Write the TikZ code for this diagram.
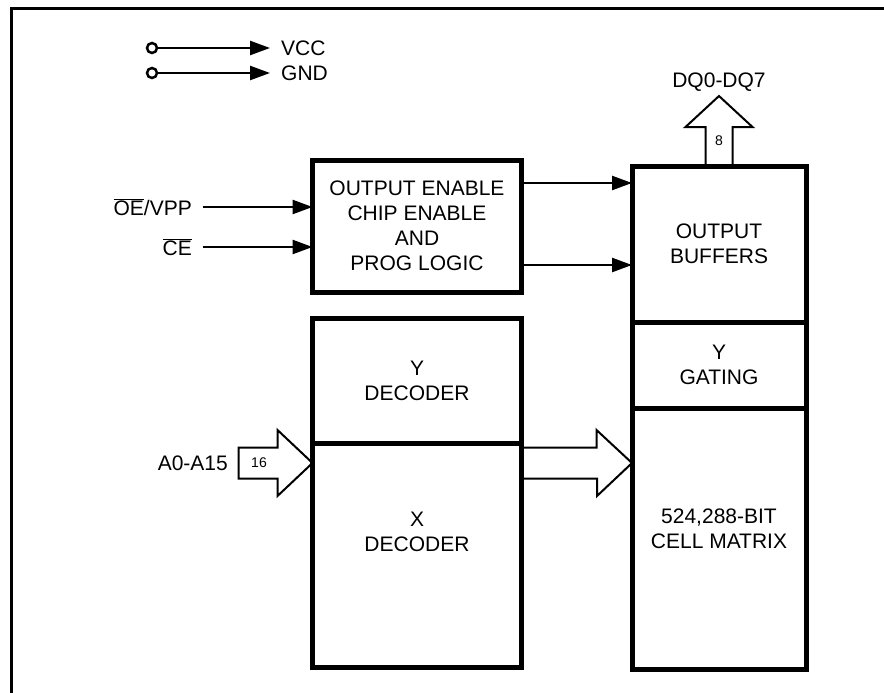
\documentclass[tikz,border=0pt]{standalone}
\usepackage{fontspec}
\setmainfont{Liberation Sans}
\usepackage{tikz}
\usetikzlibrary{positioning, arrows.meta, calc}

\begin{document}
\begin{tikzpicture}[x=1pt, y=-1pt, font=\fontsize{21}{25}\selectfont,
    block/.style={draw, line width=5pt, align=center, inner sep=0pt, outer sep=0pt},
    sig/.style={-{Triangle[length=20pt, width=14pt]}, line width=2.5pt},
    bus/.style={line width=2pt, line join=miter},
    pin/.style={circle, draw, line width=2.5pt, minimum size=10pt, inner sep=0pt},
    tag/.style={inner xsep=11pt}]
    \useasboundingbox (0,0) rectangle (884,693);
    \draw[line width=3pt, line join=miter] (11,693) -- (11,9) -- (884,9);

    \node[pin] (vccpin) at (152,48) {};
    \node[pin] (gndpin) at (152,73) {};
    \node[tag, anchor=west] (vcc) at (270,48) {VCC};
    \node[tag, anchor=west] (gnd) at (270,73) {GND};
    \draw[sig] (vccpin) -- (vcc.west);
    \draw[sig] (gndpin) -- (gnd.west);

    \node[block, minimum width=209pt, minimum height=132pt] (ctrl) at (417,226) {OUTPUT ENABLE\\CHIP ENABLE\\AND\\PROG LOGIC};
    \node[block, minimum width=209pt, minimum height=125pt] (ydec) at (417,380.5) {Y\\DECODER};
    \node[block, minimum width=209pt, minimum height=224pt, below=0pt of ydec,
        label={[align=center, yshift=23pt]center:X\\DECODER}] (xdec) {};

    \node[block, minimum width=174pt, minimum height=156pt] (outbuf) at (719,244) {OUTPUT\\BUFFERS};
    \node[block, minimum width=174pt, minimum height=86pt, below=0pt of outbuf] (ygate) {Y\\GATING};
    \node[block, minimum width=174pt, minimum height=261pt, below=0pt of ygate,
        label={[align=center, yshift=10pt]center:524,288-BIT\\CELL MATRIX}] (cells) {};

    \node[tag, anchor=east] (oe) at (203,207) {$\overline{\mbox{OE}}$/VPP};
    \node[tag, anchor=east] (ce) at (203,247) {$\overline{\mbox{CE}}$};
    \draw[sig] (oe.east) -- (oe.east -| ctrl.west);
    \draw[sig] (ce.east) -- (ce.east -| ctrl.west);

    \draw[sig] (ctrl.east |- 0,183) -- (outbuf.west |- 0,183);
    \draw[sig] (ctrl.east |- 0,265) -- (outbuf.west |- 0,265);

    \node[tag, anchor=east] (addr) at (239,463) {A0-A15};
    \draw[bus] (addr -| xdec.west) -- ++(-35,-33) -- ++(0,17.5) -- ++(-39,0) -- ++(0,31) -- ++(39,0) -- ++(0,17.5) -- cycle;
    \node[font=\fontsize{14}{16}\selectfont] (addrwidth) at (259,463) {16};
    \draw[bus] (addr -| xdec.east) ++(0,-15.5) -- ++(75,0) -- ++(0,-17.5) -- (addr -| cells.west) -- ++(-35,33) -- ++(0,-17.5) -- ++(-75,0);

    \draw[bus] (outbuf.north) ++(-13.5,0) -- ++(0,-39) -- ++(-20,0) -- ++(33.5,-31) -- ++(33.5,31) -- ++(-20,0) -- ++(0,39);
    \node[font=\fontsize{14}{16}\selectfont] (dqwidth) at (719,141) {8};
    \node (dq) at (719,82) {DQ0-DQ7};
\end{tikzpicture}
\end{document}
